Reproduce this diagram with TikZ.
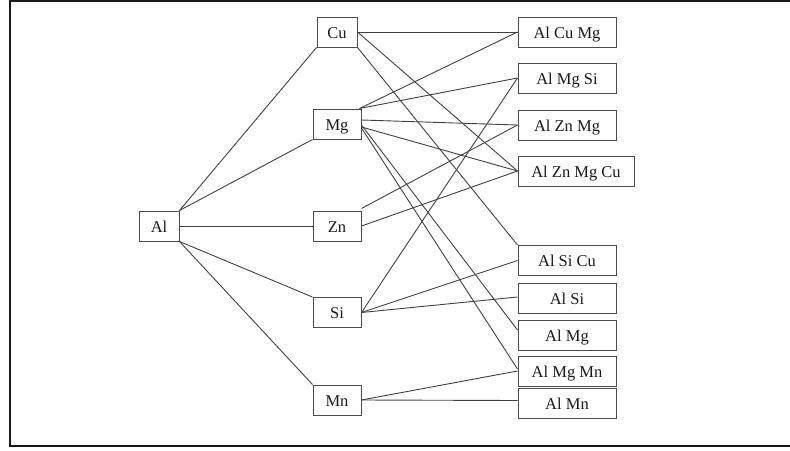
\documentclass[tikz,border=0pt]{standalone}
\usepackage{fontspec}
\setmainfont{Liberation Serif}
\begin{document}
\begin{tikzpicture}[x=1pt,y=-1pt,
  box/.style={draw=black!70,line width=1pt,rectangle,inner sep=0pt,minimum height=30pt,
    text height=13pt,text depth=1pt,
    font=\fontsize{16.5}{19}\selectfont,text=black!90},
  link/.style={draw=black!75,line width=0.9pt}]
\useasboundingbox (0,0) rectangle (790,450);
\draw[line width=1.6pt,black!90] (790,1) -- (10,1) -- (10,446) -- (790,446);
% left column
\node[box,minimum width=40pt] (Al) at (159,226) {Al};
% middle column
\node[box,minimum width=40pt] (Cu) at (337,32) {Cu};
\node[box,minimum width=48pt] (Mg) at (337,124) {Mg};
\node[box,minimum width=48pt] (Zn) at (337,226) {Zn};
\node[box,minimum width=48pt] (Si) at (337,312.5) {Si};
\node[box,minimum width=48pt] (Mn) at (337,400) {Mn};
% right column
\node[box,minimum width=98pt] (acm) at (567,32) {Al Cu Mg};
\node[box,minimum width=98pt] (ams) at (567,78) {Al Mg Si};
\node[box,minimum width=98pt] (azm) at (567,125) {Al Zn Mg};
\node[box,minimum width=116pt] (azmc) at (576,171) {Al Zn Mg Cu};
\node[box,minimum width=98pt] (asc) at (567,260.5) {Al Si Cu};
\node[box,minimum width=98pt] (asi) at (567,298) {Al Si};
\node[box,minimum width=98pt] (amg) at (567,335) {Al Mg};
\node[box,minimum width=98pt] (amm) at (567,371) {Al Mg Mn};
\node[box,minimum width=98pt] (amn) at (567,403.5) {Al Mn};
% Al links
\draw[link] (Al.north east) -- (Cu.south west);
\draw[link] (Al.north east) -- (Mg.south west);
\draw[link] (Al.east) -- (Zn.west);
\draw[link] (Al.south east) -- (Si.north west);
\draw[link] (Al.south east) -- (Mn.north west);
% Cu links
\draw[link] (Cu.east) -- (acm.west);
\draw[link] (Cu.east) -- (azmc.west);
\draw[link] (Cu.south east) -- (asc.north west);
% Mg links
\draw[link] ([xshift=-2pt]Mg.north east) -- (acm.west);
\draw[link] ([xshift=-2pt]Mg.north east) -- (ams.west);
\draw[link] ([yshift=4pt]Mg.east) -- (azm.west);
\draw[link] ([yshift=-3pt]Mg.east) -- (azmc.west);
\draw[link] ([yshift=-1pt]Mg.east) -- ([yshift=5pt]amg.west);
\draw[link] ([yshift=-4pt]Mg.east) -- ([yshift=2pt]amm.west);
% Zn links
\draw[link] ([yshift=2pt]Zn.north east) -- (azm.west);
\draw[link] (Zn.east) -- (azmc.west);
% Si links
\draw[link] (Si.east) -- (ams.west);
\draw[link] (Si.east) -- (asc.west);
\draw[link] (Si.east) -- ([yshift=1pt]asi.west);
% Mn links
\draw[link] (Mn.east) -- (amm.west);
\draw[link] (Mn.east) -- ([yshift=3pt]amn.west);
\end{tikzpicture}
\end{document}
